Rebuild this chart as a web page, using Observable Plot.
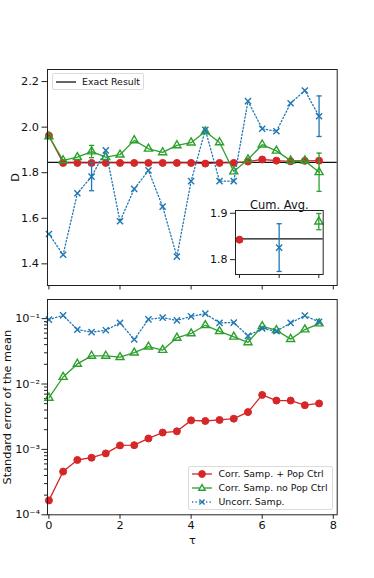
<!DOCTYPE html>
<html><head><meta charset="utf-8">
<script src="https://cdn.jsdelivr.net/npm/d3@7"></script>
<script src="https://cdn.jsdelivr.net/npm/@observablehq/plot@0.6"></script>
<style>
body{margin:0;background:#fff;font-family:"DejaVu Sans",sans-serif;}
#wrap{position:relative;width:374px;height:578px;overflow:hidden;background:#fff}
#wrap > *{position:absolute}
.leg{background:rgba(255,255,255,0.85);border:1px solid #dcdcdc;border-radius:2px;font-size:9.4px;color:#111;box-sizing:border-box}
.row{position:absolute;white-space:nowrap}
</style></head><body><div id="wrap"></div>
<script>
// ---------------- data ----------------
const tau = [0,0.4,0.8,1.2,1.6,2.0,2.4,2.8,3.2,3.6,4.0,4.4,4.8,5.2,5.6,6.0,6.4,6.8,7.2,7.6];
const exactD = 1.845;
const dCorrPop   = [1.963,1.843,1.843,1.843,1.843,1.843,1.843,1.843,1.843,1.843,1.843,1.840,1.843,1.843,1.849,1.858,1.853,1.850,1.852,1.853];
const dCorrNoPop = [1.959,1.854,1.868,1.893,1.868,1.879,1.942,1.905,1.889,1.920,1.932,1.981,1.933,1.805,1.858,1.923,1.896,1.853,1.853,1.802];
const dUncorr    = [1.531,1.440,1.710,1.783,1.898,1.587,1.729,1.810,1.651,1.432,1.763,1.988,1.763,1.763,2.114,1.993,1.982,2.105,2.161,2.048];
const seCorrPop   = [0.000166,0.000458,0.000689,0.000746,0.000869,0.00115,0.00116,0.00147,0.00181,0.00189,0.00278,0.00272,0.00282,0.00295,0.00372,0.00681,0.00558,0.00558,0.00474,0.00504];
const seCorrNoPop = [0.00614,0.0128,0.0203,0.0269,0.0269,0.0257,0.0301,0.0372,0.0331,0.0508,0.0593,0.079,0.064,0.0527,0.0433,0.0764,0.0665,0.0486,0.068,0.084];
const seUncorr    = [0.0966,0.112,0.068,0.062,0.0665,0.086,0.048,0.0975,0.1035,0.094,0.108,0.119,0.086,0.087,0.0545,0.0706,0.064,0.086,0.111,0.089];
const errIdx = [3, 19];
const seriesNames = ["Corr. Samp. + Pop Ctrl", "Corr. Samp. no Pop Ctrl", "Uncorr. Samp."];
// inset: cumulative averages (order: Pop Ctrl, Uncorr, no Pop Ctrl)
const cumPos = [0, 1, 2];
const cumSeries = ["Corr. Samp. + Pop Ctrl", "Uncorr. Samp.", "Corr. Samp. no Pop Ctrl"];
const cumAvg = [1.843, 1.826, 1.882];
const cumErr = [0.0005, 0.0515, 0.0175];
const topYTicks = [1.4, 1.6, 1.8, 2.0, 2.2];
const xTicks = [0, 2, 4, 6, 8];
const logTicks = [1e-4, 1e-3, 1e-2, 1e-1];
const insetYTicks = [1.8, 1.9];

// ---------------- styles ----------------
const style = {
  "Corr. Samp. + Pop Ctrl":  {color: "#d62728", symbol: "circle", r: 3.5, filled: true, dash: null},
  "Corr. Samp. no Pop Ctrl": {color: "#2ca02c", symbol: "triangle", r: 3.0, filled: false, dash: null},
  "Uncorr. Samp.":           {color: "#1f77b4", symbol: "times", r: 2.9, filled: false, dash: "1.3,2.2"}
};
const Dvals = [dCorrPop, dCorrNoPop, dUncorr];
const SEvals = [seCorrPop, seCorrNoPop, seUncorr];
const rowsOf = k => tau.map((t, i) => ({tau: t, D: Dvals[k][i], se: SEvals[k][i], s: seriesNames[k]}));
const capSymbol = {draw(ctx, size) { const w = Math.sqrt(size / Math.PI); ctx.moveTo(-w, 0); ctx.lineTo(w, 0); }};
const sup = n => String(n).split("").map(c => ({"-":"⁻","0":"⁰","1":"¹","2":"²","3":"³","4":"⁴","5":"⁵","6":"⁶","7":"⁷","8":"⁸","9":"⁹"})[c]).join("");
const svgStyle = {fontFamily: "DejaVu Sans", fontSize: "11px", background: "transparent", overflow: "visible", color: "#111"};
const FR = "#222";
const xDomain = [-0.04, 8.11];

function seriesMarks(k, yKey) {
  const st = style[seriesNames[k]];
  const rows = rowsOf(k);
  const marks = [
    Plot.line(rows, {x: "tau", y: yKey, stroke: st.color, strokeWidth: 1.3, strokeDasharray: st.dash})
  ];
  if (yKey === "D") {
    const er = errIdx.map(i => rows[i]);
    marks.push(
      Plot.ruleX(er, {x: "tau", y1: d => d.D - d.se, y2: d => d.D + d.se, stroke: st.color, strokeWidth: 1.3}),
      Plot.dot(er, {x: "tau", y: d => d.D - d.se, symbol: capSymbol, r: 2.6, stroke: st.color, fill: "none", strokeWidth: 1.3}),
      Plot.dot(er, {x: "tau", y: d => d.D + d.se, symbol: capSymbol, r: 2.6, stroke: st.color, fill: "none", strokeWidth: 1.3})
    );
  }
  marks.push(Plot.dot(rows, {x: "tau", y: yKey, symbol: st.symbol, r: st.r,
    fill: st.filled ? st.color : "none", stroke: st.color, strokeWidth: st.filled ? 1 : 1.4}));
  return marks;
}

const wrap = document.getElementById("wrap");

// ---------------- top panel ----------------
const topPlot = Plot.plot({
  width: 374, height: 290,
  marginTop: 69, marginBottom: 5, marginLeft: 47, marginRight: 37.3,
  style: svgStyle,
  x: {domain: xDomain},
  y: {domain: [1.305, 2.253]},
  marks: [
    Plot.axisY({ticks: topYTicks, tickFormat: d => d.toFixed(1), tickSize: 5.5, tickPadding: 3,
      label: "D", labelAnchor: "center", labelOffset: 37, labelArrow: "none", stroke: FR, fontSize: 11.3}),
    Plot.axisX({ticks: xTicks, tickFormat: () => "", tickSize: 4.5, label: null, stroke: FR}),
    Plot.ruleY([exactD], {stroke: "#111", strokeWidth: 1.3}),
    ...seriesMarks(0, "D"),
    ...seriesMarks(1, "D"),
    ...seriesMarks(2, "D"),
    Plot.frame({stroke: FR, strokeWidth: 1})
  ]
});
topPlot.style.left = "0px"; topPlot.style.top = "0px";
wrap.appendChild(topPlot);

// ---------------- inset ----------------
const cumRows = cumPos.map((p, i) => ({p, v: cumAvg[i], e: cumErr[i], s: cumSeries[i]}));
const insetMarks = [Plot.frame({fill: "white", stroke: "none"}), Plot.ruleY([exactD], {stroke: "#111", strokeWidth: 1.3})];
cumRows.forEach(r => {
  const st = style[r.s];
  insetMarks.push(
    Plot.ruleX([r], {x: "p", y1: d => d.v - d.e, y2: d => d.v + d.e, stroke: st.color, strokeWidth: 1.3}),
    Plot.dot([r], {x: "p", y: d => d.v - d.e, symbol: capSymbol, r: 2.6, stroke: st.color, fill: "none", strokeWidth: 1.3}),
    Plot.dot([r], {x: "p", y: d => d.v + d.e, symbol: capSymbol, r: 2.6, stroke: st.color, fill: "none", strokeWidth: 1.3}),
    Plot.dot([r], {x: "p", y: "v", symbol: st.symbol, r: st.r, fill: st.filled ? st.color : "none", stroke: st.color, strokeWidth: st.filled ? 1 : 1.4})
  );
});
insetMarks.push(
  Plot.axisY({ticks: insetYTicks, tickFormat: d => d.toFixed(1), tickSize: 5, tickPadding: 3, label: null, stroke: FR}),
  Plot.axisX({ticks: cumPos, tickFormat: () => "", tickSize: 4, label: null, stroke: FR}),
  Plot.text(["Cum. Avg."], {frameAnchor: "top", text: d => d, lineAnchor: "bottom", dy: -1, fontSize: 11.5, fill: "#111"}),
  Plot.frame({stroke: FR, strokeWidth: 1})
);
const insetPlot = Plot.plot({
  width: 128.7, height: 90,
  marginTop: 18, marginBottom: 8, marginLeft: 35, marginRight: 6,
  style: svgStyle,
  x: {domain: [-0.1, 2.11]},
  y: {domain: [1.768, 1.906]},
  marks: insetMarks
});
insetPlot.style.left = "200px"; insetPlot.style.top = "192px";
wrap.appendChild(insetPlot);

// ---------------- bottom panel ----------------
const minorTicks = [];
for (let e = -4; e <= -1; e++) for (let m = 2; m <= 9; m++) { const v = m * Math.pow(10, e); if (v < 0.196) minorTicks.push(v); }
const bottomPlot = Plot.plot({
  width: 374, height: 288,
  marginTop: 9, marginBottom: 63.7, marginLeft: 47, marginRight: 37.3,
  style: svgStyle,
  x: {domain: xDomain},
  y: {type: "log", domain: [1e-4, 0.196]},
  marks: [
    Plot.axisY({ticks: minorTicks, tickFormat: () => "", tickSize: 3, label: null, stroke: FR}),
    Plot.axisY({ticks: logTicks, tickFormat: d => "10" + sup(Math.round(Math.log10(d))), tickSize: 5.5, tickPadding: 2,
      label: "Standard error of the mean", labelAnchor: "center", labelOffset: 45, labelArrow: "none", stroke: FR, fontSize: 11.3}),
    Plot.axisX({ticks: xTicks, tickFormat: d => String(d), tickSize: 4.5, tickPadding: 2,
      label: "τ", labelAnchor: "center", labelOffset: 29, labelArrow: "none", stroke: FR, fontSize: 11.3}),
    ...seriesMarks(0, "se"),
    ...seriesMarks(1, "se"),
    ...seriesMarks(2, "se"),
    Plot.frame({stroke: FR, strokeWidth: 1})
  ]
});
bottomPlot.style.left = "0px"; bottomPlot.style.top = "290px";
wrap.appendChild(bottomPlot);

// ---------------- legends ----------------
function sample(name) {
  const st = style[name];
  const dash = st.dash ? `stroke-dasharray="${st.dash}"` : "";
  let mk = "";
  if (st.symbol === "circle") mk = `<circle cx="10" cy="5" r="3.4" fill="${st.color}" stroke="${st.color}"/>`;
  else if (st.symbol === "triangle") mk = `<path d="M10,1.6L13.2,7.2L6.8,7.2Z" fill="white" stroke="${st.color}" stroke-width="1.4"/>`;
  else mk = `<path d="M7.4,2.4L12.6,7.6M12.6,2.4L7.4,7.6" stroke="${st.color}" stroke-width="1.4"/>`;
  return `<svg width="20" height="10" style="position:absolute;left:0;top:0;overflow:visible"><line x1="0" y1="5" x2="20" y2="5" stroke="${st.color}" stroke-width="1.3" ${dash}/>${mk}</svg>`;
}
const legTop = document.createElement("div");
legTop.className = "leg";
Object.assign(legTop.style, {left: "51.5px", top: "73px", width: "92px", height: "17px"});
legTop.innerHTML = `<div class="row" style="left:3px;top:3px;width:20px;height:10px"><svg width="20" height="10"><line x1="0" y1="5" x2="20" y2="5" stroke="#111" stroke-width="1.3"/></svg></div><div class="row" style="left:29.5px;top:2px">Exact Result</div>`;
wrap.appendChild(legTop);

const legBot = document.createElement("div");
legBot.className = "leg";
Object.assign(legBot.style, {left: "188px", top: "465.5px", width: "144.5px", height: "44px"});
legBot.innerHTML = seriesNames.map((n, i) =>
  `<div class="row" style="left:2.5px;top:${2 + i * 14}px;width:20px;height:10px">${sample(n)}</div>` +
  `<div class="row" style="left:29.5px;top:${1 + i * 14}px">${n}</div>`).join("");
wrap.appendChild(legBot);
</script>
</body></html>
